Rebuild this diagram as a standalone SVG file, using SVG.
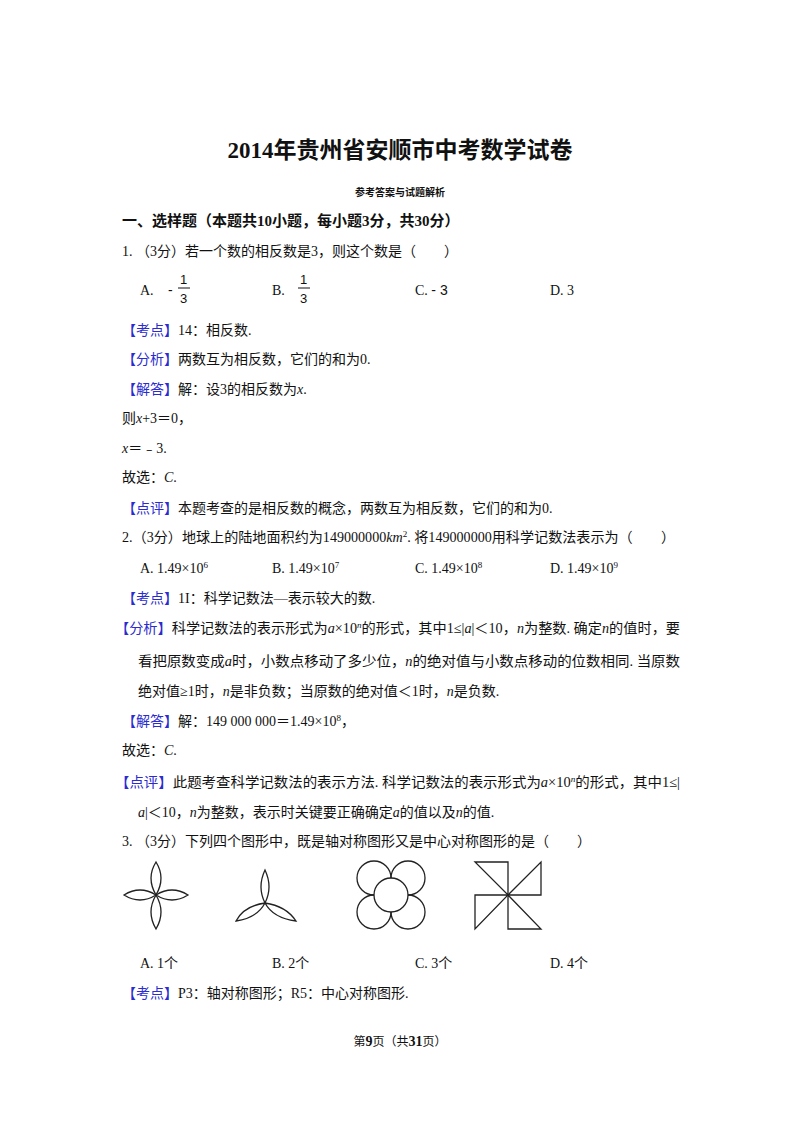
<svg xmlns="http://www.w3.org/2000/svg" width="800" height="1132" viewBox="0 0 800 1132">
<style>
text{font-family:"Liberation Serif","Noto Sans CJK SC",serif;font-size:14px;fill:#111}
.b{font-weight:bold}
.k{fill:#2b2bd0}
.i{font-style:italic}
.s{font-family:"Liberation Sans","Noto Sans CJK SC",sans-serif}
.f{fill:none;stroke:#222;stroke-width:1.3}
</style>
<rect width="800" height="1132" fill="#fff"/>
<text x="400" y="158" text-anchor="middle" class="b" style="font-size:23px">2014年贵州省安顺市中考数学试卷</text>
<text x="400" y="196" text-anchor="middle" class="b" style="font-size:10px">参考答案与试题解析</text>
<text x="122" y="226" class="b" style="font-size:15px">一、选样题（本题共10小题，每小题3分，共30分）</text>
<text x="122" y="256">1. （3分）若一个数的相反数是3，则这个数是（　　）</text>
<text x="140" y="295">A.</text><text x="168" y="295" class="s">-</text>
<text x="180" y="284" class="s" style="font-size:13px">1</text><line x1="178" y1="288" x2="190" y2="288" stroke="#111"/><text x="180" y="303" class="s" style="font-size:13px">3</text>
<text x="272" y="295">B.</text>
<text x="300" y="284" class="s" style="font-size:13px">1</text><line x1="298" y1="288" x2="310" y2="288" stroke="#111"/><text x="300" y="303" class="s" style="font-size:13px">3</text>
<text x="415" y="295">C.  <tspan class="s">- 3</tspan></text>
<text x="550" y="295">D. 3</text>
<text x="122" y="335"><tspan class="k">【考点】</tspan>14：相反数.</text>
<text x="122" y="364"><tspan class="k">【分析】</tspan>两数互为相反数，它们的和为0.</text>
<text x="122" y="394"><tspan class="k">【解答】</tspan>解：设3的相反数为<tspan class="i">x</tspan>.</text>
<text x="122" y="423">则<tspan class="i">x</tspan>+3＝0，</text>
<text x="122" y="453"><tspan class="i">x</tspan>＝﹣3.</text>
<text x="122" y="482">故选：<tspan class="i">C</tspan>.</text>
<text x="122" y="513"><tspan class="k">【点评】</tspan>本题考查的是相反数的概念，两数互为相反数，它们的和为0.</text>
<text x="122" y="542" textLength="553" lengthAdjust="spacingAndGlyphs">2.（3分）地球上的陆地面积约为149000000<tspan class="i">km</tspan><tspan dy="-5" style="font-size:9px">2</tspan><tspan dy="5">. 将149000000用科学记数法表示为（　　）</tspan></text>
<text x="140" y="573">A. 1.49×10<tspan dy="-5" style="font-size:9px">6</tspan></text>
<text x="272" y="573">B. 1.49×10<tspan dy="-5" style="font-size:9px">7</tspan></text>
<text x="415" y="573">C. 1.49×10<tspan dy="-5" style="font-size:9px">8</tspan></text>
<text x="550" y="573">D. 1.49×10<tspan dy="-5" style="font-size:9px">9</tspan></text>
<text x="122" y="603"><tspan class="k">【考点】</tspan>1I：科学记数法—表示较大的数.</text>
<text x="115" y="633" textLength="565" lengthAdjust="spacingAndGlyphs"><tspan class="k">【分析】</tspan>科学记数法的表示形式为<tspan class="i">a</tspan>×10<tspan dy="-5" style="font-size:9px" class="i">n</tspan><tspan dy="5">的形式，其中1≤|</tspan><tspan class="i">a</tspan>|＜10，<tspan class="i">n</tspan>为整数. 确定<tspan class="i">n</tspan>的值时，要</text>
<text x="138" y="666" textLength="542" lengthAdjust="spacingAndGlyphs">看把原数变成<tspan class="i">a</tspan>时，小数点移动了多少位，<tspan class="i">n</tspan>的绝对值与小数点移动的位数相同. 当原数</text>
<text x="138" y="696">绝对值≥1时，<tspan class="i">n</tspan>是非负数；当原数的绝对值＜1时，<tspan class="i">n</tspan>是负数.</text>
<text x="122" y="726"><tspan class="k">【解答】</tspan>解：149 000 000＝1.49×10<tspan dy="-5" style="font-size:9px">8</tspan><tspan dy="5">，</tspan></text>
<text x="122" y="755">故选：<tspan class="i">C</tspan>.</text>
<text x="115" y="787" textLength="565" lengthAdjust="spacingAndGlyphs"><tspan class="k">【点评】</tspan>此题考查科学记数法的表示方法. 科学记数法的表示形式为<tspan class="i">a</tspan>×10<tspan dy="-5" style="font-size:9px" class="i">n</tspan><tspan dy="5">的形式，其中1≤|</tspan></text>
<text x="138" y="817"><tspan class="i">a</tspan>|＜10，<tspan class="i">n</tspan>为整数，表示时关键要正确确定<tspan class="i">a</tspan>的值以及<tspan class="i">n</tspan>的值.</text>
<text x="122" y="846">3. （3分）下列四个图形中，既是轴对称图形又是中心对称图形的是（　　）</text>
<g id="fig1" class="f">
<path d="M156,895 Q146,878 156,862 Q166,878 156,895 Z"/>
<path d="M156,895 Q146,912 156,929 Q166,912 156,895 Z"/>
<path d="M156,895 Q140,885 124,895 Q140,905 156,895 Z"/>
<path d="M156,895 Q172,885 188,895 Q172,905 156,895 Z"/>
</g>
<g id="fig2" class="f">
<path d="M265,903 Q257,887 265,870 Q273,887 265,903 Z"/>
<path d="M265,903 Q244,906 236,921 Q257,918 265,903 Z"/>
<path d="M265,903 Q286,906 296,921 Q273,918 265,903 Z"/>
</g>
<g id="fig3" class="f">
<circle cx="374" cy="878" r="17"/><circle cx="408" cy="878" r="17"/>
<circle cx="374" cy="912" r="17"/><circle cx="408" cy="912" r="17"/>
<circle cx="391" cy="895" r="17" fill="#fff"/>
</g>
<g id="fig4" class="f">
<path d="M475,862 H508 V895 Z"/>
<path d="M541,862 V895 H508 Z"/>
<path d="M508,895 V929 H541 Z"/>
<path d="M475,895 H508 L475,929 Z"/>
</g>
<text x="140" y="968">A. 1个</text>
<text x="272" y="968">B. 2个</text>
<text x="415" y="968">C. 3个</text>
<text x="550" y="968">D. 4个</text>
<text x="122" y="998"><tspan class="k">【考点】</tspan>P3：轴对称图形；R5：中心对称图形.</text>
<text x="400" y="1046" text-anchor="middle" style="font-size:12px">第<tspan class="b" style="font-size:14px">9</tspan>页（共<tspan class="b" style="font-size:14px">31</tspan>页）</text>
</svg>
